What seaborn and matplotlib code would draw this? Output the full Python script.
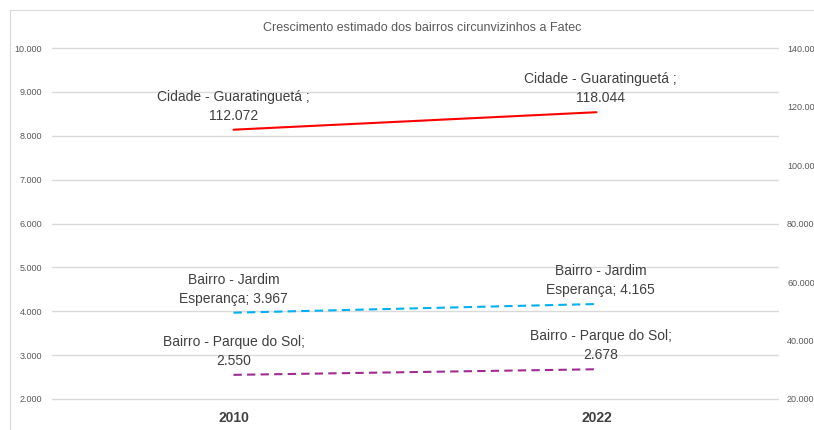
import pandas as pd
import seaborn as sns
from matplotlib import pyplot as plt
from matplotlib.patches import Rectangle
from matplotlib.ticker import FuncFormatter

anos = ["2010", "2022"]
cidade = [112.072, 118.044]
jardim = [3.967, 4.165]
parque = [2.550, 2.678]
rot_cidade = ["Cidade - Guaratinguetá ;\n112.072", "Cidade - Guaratinguetá ;\n118.044"]
rot_jardim = ["Bairro - Jardim\nEsperança; 3.967", "Bairro - Jardim\nEsperança; 4.165"]
rot_parque = ["Bairro - Parque do Sol;\n2.550", "Bairro - Parque do Sol;\n2.678"]

sns.set_style("white")
plt.rcParams['font.family'] = ['Liberation Sans', 'DejaVu Sans']

df = pd.DataFrame({"ano": anos, "cidade": cidade, "jardim": jardim, "parque": parque})

fig = plt.figure(figsize=(8.14, 4.3), dpi=100)
fig.patches.append(Rectangle((10/814, -0.1), 1.2, 1 - 10/430 + 0.1, transform=fig.transFigure,
                             fill=False, edgecolor="#d9d9d9", linewidth=0.8))
ax = fig.add_axes([52/814, 1 - 399/430, 726/814, 351/430])
ay = ax.twinx()

sns.lineplot(data=df, x="ano", y="jardim", ax=ax, color="#00b0f0", linewidth=1.5)
sns.lineplot(data=df, x="ano", y="parque", ax=ax, color="#a02b93", linewidth=1.5)
sns.lineplot(data=df, x="ano", y="cidade", ax=ay, color="#ff0000", linewidth=1.5)
for ln in ax.get_lines():
    ln.set_dashes((4, 2.5))

ax.set_xlim(-0.5, 1.5)
ax.set_ylim(2, 10)
ay.set_ylim(20, 140)
ax.set_yticks(range(2, 11))
ay.set_yticks(range(20, 141, 20))
fmt = FuncFormatter(lambda v, p: f"{v:.3f}")
ax.yaxis.set_major_formatter(fmt)
ay.yaxis.set_major_formatter(fmt)
ax.grid(axis="y", color="#d9d9d9", linewidth=1)
for g in ax.get_ygridlines():
    g.set_clip_on(False)
ax.set_axisbelow(True)
for a in (ax, ay):
    for s in a.spines.values():
        s.set_visible(False)
    a.set_xlabel("")
    a.set_ylabel("")
    a.tick_params(axis="y", length=0, labelsize=6.5, labelcolor="#595959")
ax.tick_params(axis="y", pad=7)
ay.tick_params(axis="y", pad=6.5)
ax.tick_params(axis="x", length=0, labelsize=10, labelcolor="#404040", pad=9)
for t in ax.get_xticklabels():
    t.set_fontweight("bold")

def rotular(a, vals, rots, dx):
    for i, (v, r) in enumerate(zip(vals, rots)):
        a.annotate(r, (i, v), xytext=(dx[i], 5), textcoords="offset points", ha="center",
                   va="bottom", fontsize=10, color="#404040", linespacing=1.45)

rotular(ay, cidade, rot_cidade, [0, 3])
rotular(ax, jardim, rot_jardim, [0, 3])
rotular(ax, parque, rot_parque, [0, 3])

fig.text(422/814, 1 - 28/430, "Crescimento estimado dos bairros circunvizinhos a Fatec",
         ha="center", va="center", fontsize=9, color="#595959")

fig.savefig("out.png", dpi=100)
